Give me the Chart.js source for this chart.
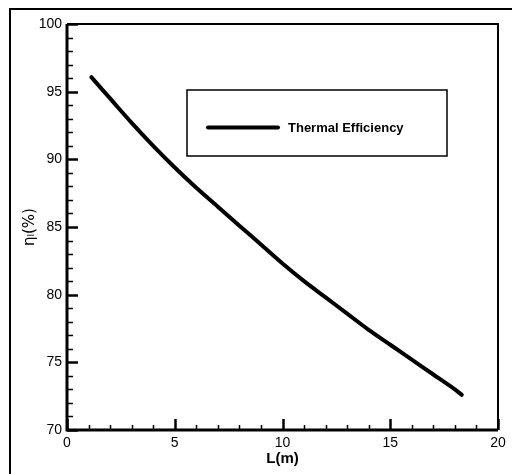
<!DOCTYPE html>
<html>
<head>
<meta charset="utf-8">
<script src="https://cdn.jsdelivr.net/npm/chart.js@4/dist/chart.umd.min.js"></script>
<style>
  html, body { margin: 0; padding: 0; background: #fff; }
  canvas { display: block; }
</style>
</head>
<body>
<canvas id="grafico" width="512" height="474"></canvas>
<script>
// data
var comprimento = [1.13, 2, 3, 4, 5, 6, 7, 8, 9, 10, 11, 12, 13, 14, 15, 16, 17, 18, 18.32];
var eficiencia = [96.07, 94.5, 92.7, 91.0, 89.4, 87.9, 86.5, 85.1, 83.7, 82.3, 81.0, 79.8, 78.6, 77.4, 76.3, 75.2, 74.1, 73.0, 72.6];
var ticksX = [0, 5, 10, 15, 20];
var ticksY = [70, 75, 80, 85, 90, 95, 100];
var nomeSerie = 'Thermal Efficiency';

var pontos = comprimento.map(function (x, i) { return { x: x, y: eficiencia[i] }; });

// frame, inward ticks, legend box
var moldura = {
  id: 'moldura',
  afterDraw: function (chart) {
    var c = chart.ctx, a = chart.chartArea;
    var sx = chart.scales.x, sy = chart.scales.y;
    c.save();
    c.strokeStyle = '#000';
    // outer frame (top and left edges)
    c.lineWidth = 2;
    c.beginPath();
    c.moveTo(10, 474); c.lineTo(10, 9); c.lineTo(512, 9);
    c.stroke();
    // plot box
    c.lineWidth = 3;
    c.beginPath();
    c.moveTo(a.left, a.top); c.lineTo(a.left, a.bottom); c.lineTo(a.right, a.bottom);
    c.stroke();
    c.lineWidth = 2;
    c.beginPath();
    c.moveTo(a.left, a.top); c.lineTo(a.right, a.top); c.lineTo(a.right, a.bottom);
    c.stroke();
    // y ticks
    for (var v = 70; v <= 100; v++) {
      var py = Math.round(sy.getPixelForValue(v)) + 0.5;
      var maior = v % 5 === 0;
      c.lineWidth = maior ? 2.5 : 1.5;
      c.beginPath();
      c.moveTo(a.left, py); c.lineTo(a.left + (maior ? 11 : 6), py);
      c.stroke();
    }
    // x ticks
    for (var u = 0; u <= 20; u++) {
      var px = Math.round(sx.getPixelForValue(u)) + 0.5;
      var mx = u % 5 === 0;
      c.lineWidth = mx ? 2.5 : 1.5;
      c.beginPath();
      c.moveTo(px, a.bottom); c.lineTo(px, a.bottom - (mx ? 11 : 5));
      c.stroke();
    }
    // legend
    c.lineWidth = 1.5;
    c.strokeRect(187, 90, 260, 66);
    c.lineWidth = 4;
    c.lineCap = 'round';
    c.beginPath();
    c.moveTo(208, 127.5); c.lineTo(278, 127.5);
    c.stroke();
    c.fillStyle = '#000';
    c.font = 'bold 13px "Liberation Sans", Arial, sans-serif';
    c.textBaseline = 'middle';
    c.fillText(nomeSerie, 288, 128);
    c.restore();
  }
};

var ctx = document.getElementById('grafico').getContext('2d');
var grafico = new Chart(ctx, {
  type: 'scatter',
  data: {
    datasets: [{
      label: nomeSerie,
      data: pontos,
      showLine: true,
      borderColor: '#000',
      borderWidth: 4,
      pointRadius: 0,
      tension: 0.3,
      borderCapStyle: 'round'
    }]
  },
  options: {
    responsive: false,
    animation: false,
    layout: { padding: { top: 24, right: 14, left: 0, bottom: 0 } },
    plugins: { legend: { display: false }, tooltip: { enabled: false } },
    scales: {
      x: {
        type: 'linear', min: 0, max: 20,
        afterBuildTicks: function (s) { s.ticks = ticksX.map(function (v) { return { value: v }; }); },
        afterFit: function (s) { s.height = 44; },
        grid: { display: false, drawTicks: false },
        border: { display: false },
        ticks: { color: '#000', padding: 5, maxRotation: 0, font: { family: '"Liberation Sans", Arial', size: 14 } },
        title: { display: true, text: 'L(m)', color: '#000', padding: { top: 0, bottom: 6 },
                 font: { family: '"Liberation Sans", Arial', size: 15, weight: 'bold' } }
      },
      y: {
        type: 'linear', min: 70, max: 100,
        afterBuildTicks: function (s) { s.ticks = ticksY.map(function (v) { return { value: v }; }); },
        afterFit: function (s) { s.width = 67; },
        grid: { display: false, drawTicks: false },
        border: { display: false },
        ticks: { color: '#000', padding: 5, font: { family: '"Liberation Sans", Arial', size: 14 } },
        title: { display: true, text: 'η\u2097(%)', color: '#000', padding: { top: 21, bottom: 0 },
                 font: { family: '"DejaVu Sans", "Liberation Sans", Arial', size: 15 } }
      }
    }
  },
  plugins: [moldura]
});
</script>
</body>
</html>
